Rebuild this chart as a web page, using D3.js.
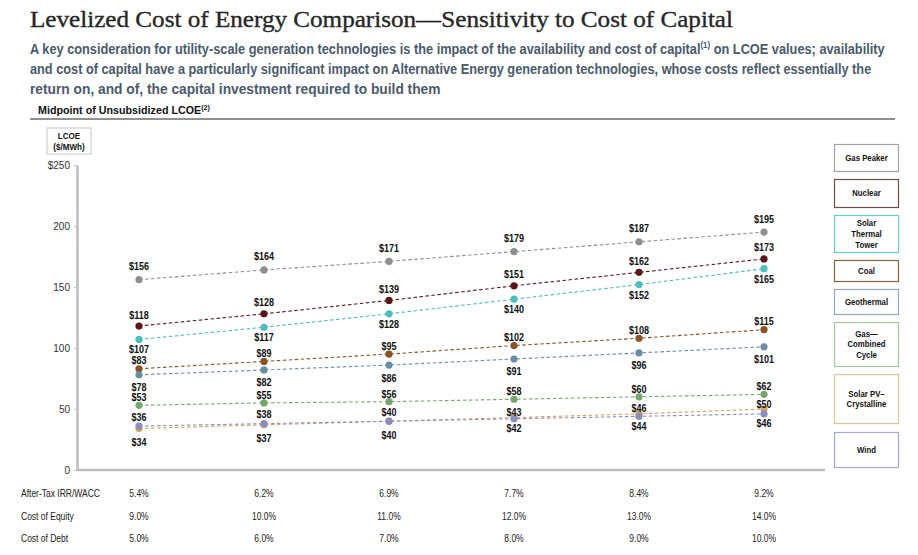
<!DOCTYPE html>
<html>
<head>
<meta charset="utf-8">
<script src="https://cdn.jsdelivr.net/npm/d3@7/dist/d3.min.js"></script>
<style>
  body { margin: 0; background: #fff; }
  svg { display: block; }
</style>
</head>
<body>
<script>
// ---- data ----
let waccLabels = ["5.4%", "6.2%", "6.9%", "7.7%", "8.4%", "9.2%"];
let equityLabels = ["9.0%", "10.0%", "11.0%", "12.0%", "13.0%", "14.0%"];
let debtLabels = ["5.0%", "6.0%", "7.0%", "8.0%", "9.0%", "10.0%"];
let rowNames = ["After-Tax IRR/WACC", "Cost of Equity", "Cost of Debt"];
let yTicks = [0, 50, 100, 150, 200, 250];

let seriesNames = ["Gas Peaker", "Nuclear", "Solar Thermal Tower", "Coal", "Geothermal", "Gas\u2014Combined Cycle", "Solar PV\u2013Crystalline", "Wind"];
let gasPeaker = [156, 164, 171, 179, 187, 195];
let nuclear = [118, 128, 139, 151, 162, 173];
let solarThermal = [107, 117, 128, 140, 152, 165];
let coal = [83, 89, 95, 102, 108, 115];
let geothermal = [78, 82, 86, 91, 96, 101];
let gasCC = [53, 55, 56, 58, 60, 62];
let solarPV = [34, 37, 40, 43, 46, 50];
let wind = [36, 38, 40, 42, 44, 46];
let seriesValues = [gasPeaker, nuclear, solarThermal, coal, geothermal, gasCC, solarPV, wind];

// ---- styles / layout ----
let W = 918, H = 555;
let colors = ["#8e8e8e", "#5a1719", "#4dbdbd", "#8a5325", "#6a8da6", "#78a56d", "#d4a45c", "#8a8dc0"];
let boxColors = ["#a3a3a3", "#6f4b4b", "#64cfcf", "#86633f", "#93a9bb", "#a3c29d", "#e2c48f", "#a5a8cf"];
// label side per point: 1 = above, -1 = below
let labelSide = [
  [1, 1, 1, 1, 1, 1],
  [1, 1, 1, 1, 1, 1],
  [-1, -1, -1, -1, -1, -1],
  [1, 1, 1, 1, 1, 1],
  [-1, -1, -1, -1, -1, -1],
  [1, 1, 1, 1, 1, 1],
  [-1, -1, -1, 1, 1, 1],
  [1, 1, 1, -1, -1, -1]
];
// label centre offsets (above, below) per series, in px
let labelGap = [[-13, 12], [-11, 12], [-11, 10.5], [-8, 12], [-11, 13], [-7.5, 12], [-5, 14], [-9, 10]];
let legendLines = [["Gas Peaker"], ["Nuclear"], ["Solar", "Thermal", "Tower"], ["Coal"], ["Geothermal"],
  ["Gas\u2014", "Combined", "Cycle"], ["Solar PV\u2013", "Crystalline"], ["Wind"]];
let legendTop = [144, 179, 215, 260, 289, 322, 374, 432];
let legendH = [27, 28, 37, 21, 25, 44, 49, 35];

let sans = "'Liberation Sans', Arial, sans-serif";

let svg = d3.select("body").append("svg").attr("width", W).attr("height", H)
  .attr("viewBox", "0 0 " + W + " " + H);

// text squeezed horizontally, to stand in for a narrow face
let narrowText = (parent, x, y, str, size, weight, sx, anchor) =>
{
  return parent.append("text")
    .attr("transform", "translate(" + x + "," + y + ") scale(" + sx + ",1)")
    .attr("text-anchor", anchor || "start")
    .attr("font-family", sans)
    .attr("font-size", size)
    .attr("font-weight", weight)
    .attr("fill", "#111")
    .text(str);
}

let fitWidth = (sel, x, y, width) =>
{
  let w = sel.node().getBBox().width;
  sel.attr("transform", "translate(" + x + "," + y + ") scale(" + (width / w) + ",1)");
}

// ---- header ----
let DrawHeader = () =>
{
  svg.append("text")
    .attr("x", 30).attr("y", 27)
    .attr("font-family", "'Liberation Serif', 'Times New Roman', serif")
    .attr("font-size", 24)
    .attr("fill", "#262626")
    .attr("stroke", "#262626").attr("stroke-width", 0.35)
    .attr("textLength", 703).attr("lengthAdjust", "spacingAndGlyphs")
    .text("Levelized Cost of Energy Comparison\u2014Sensitivity to Cost of Capital");

  let sub = [
    ["A key consideration for utility-scale generation technologies is the impact of the availability and cost of capital", "(1)", " on LCOE values; availability", 855],
    ["and cost of capital have a particularly significant impact on Alternative Energy generation technologies, whose costs reflect essentially the", "", "", 842],
    ["return on, and of, the capital investment required to build them", "", "", 411]
  ];
  sub.forEach((s, i) =>
  {
    let t = svg.append("text")
      .attr("font-family", sans)
      .attr("font-weight", "bold")
      .attr("font-size", 14.5)
      .attr("fill", "#4b5a6b");
    t.append("tspan").text(s[0]);
    if (s[1])
    {
      t.append("tspan").attr("font-size", 9).attr("dy", -6).text(s[1]);
      t.append("tspan").attr("dy", 6).text(s[2]);
    }
    fitWidth(t, 30, 54 + i * 20, s[3]);
  });

  let m = svg.append("text")
    .attr("font-family", sans)
    .attr("font-weight", "bold")
    .attr("font-size", 10.5)
    .attr("fill", "#111");
  m.append("tspan").text("Midpoint of Unsubsidized LCOE");
  m.append("tspan").attr("font-size", 7).attr("dy", -4).text("(2)");
  fitWidth(m, 38, 114, 172);

  svg.append("line")
    .attr("x1", 30).attr("x2", 895).attr("y1", 119).attr("y2", 119)
    .attr("stroke", "#222").attr("stroke-width", 1.2);
}

// ---- scales ----
let scaleX = d3.scalePoint().domain(d3.range(waccLabels.length)).range([139, 764]);
let scaleY = d3.scaleLinear().domain([0, 250]).range([470, 165]);

let DrawAxes = () =>
{
  // unit box
  svg.append("rect")
    .attr("x", 47).attr("y", 128).attr("width", 44).attr("height", 26)
    .attr("fill", "#fff").attr("stroke", "#c8c8c8");
  ["LCOE", "($/MWh)"].forEach((t, i) =>
  {
    narrowText(svg, 69, 139 + i * 10.5, t, 9, "bold", 0.9, "middle");
  });

  let yAxis = svg.append("g")
    .attr("transform", "translate(77,0)")
    .call(d3.axisLeft(scaleY).tickValues(yTicks).tickSize(3).tickSizeOuter(0).tickPadding(4)
      .tickFormat(d => d === 250 ? "$250" : d));
  yAxis.select(".domain").attr("stroke", "#bdbdbd").attr("stroke-width", 2.5);
  yAxis.selectAll(".tick line").attr("stroke", "#c4c4c4");
  yAxis.selectAll(".tick text")
    .attr("font-family", sans).attr("font-size", 10).attr("fill", "#333");

  // horizontal base line
  svg.append("line")
    .attr("x1", 76).attr("x2", 825)
    .attr("y1", scaleY(0)).attr("y2", scaleY(0))
    .attr("stroke", "#bdbdbd").attr("stroke-width", 2.5);
}

let DrawSeries = () =>
{
  let line = d3.line().x((d, i) => scaleX(i)).y(d => scaleY(d));
  seriesValues.forEach((vals, s) =>
  {
    svg.append("path")
      .attr("d", line(vals))
      .attr("fill", "none")
      .attr("stroke", colors[s])
      .attr("stroke-width", 1.1)
      .attr("stroke-dasharray", "3.5,2.5");
  });
  seriesValues.forEach((vals, s) =>
  {
    svg.append("g").selectAll("circle").data(vals).enter().append("circle")
      .attr("cx", (d, i) => scaleX(i))
      .attr("cy", d => scaleY(d))
      .attr("r", 3.6)
      .attr("fill", colors[s]);
  });
  let labels = svg.append("g");
  seriesValues.forEach((vals, s) =>
  {
    vals.forEach((d, i) =>
    {
      let off = labelSide[s][i] > 0 ? labelGap[s][0] : labelGap[s][1];
      narrowText(labels, scaleX(i), scaleY(d) + off + 3.5, "$" + d, 10, "bold", 0.9, "middle");
    });
  });
}

let DrawLegend = () =>
{
  seriesNames.forEach((name, s) =>
  {
    svg.append("rect")
      .attr("x", 834.5).attr("y", legendTop[s] + 0.5)
      .attr("width", 64).attr("height", legendH[s])
      .attr("fill", "#fff")
      .attr("stroke", boxColors[s]).attr("stroke-width", 1.2);
    let lines = legendLines[s];
    let cy = legendTop[s] + legendH[s] / 2;
    lines.forEach((t, j) =>
    {
      narrowText(svg, 866.5, cy + (j - (lines.length - 1) / 2) * 10.8 + 3.4, t, 9.5, "bold", 0.82, "middle");
    });
  });
}

let DrawTable = () =>
{
  let rows = [waccLabels, equityLabels, debtLabels];
  rows.forEach((r, k) =>
  {
    let yy = 497 + k * 22.5;
    narrowText(svg, 21, yy, rowNames[k], 10, "normal", 0.85, "start").attr("fill", "#222");
    r.forEach((d, i) =>
    {
      narrowText(svg, scaleX(i), yy, d, 10, "normal", 0.85, "middle").attr("fill", "#222");
    });
  });
}

DrawHeader();
DrawAxes();
DrawSeries();
DrawLegend();
DrawTable();
</script>
</body>
</html>
